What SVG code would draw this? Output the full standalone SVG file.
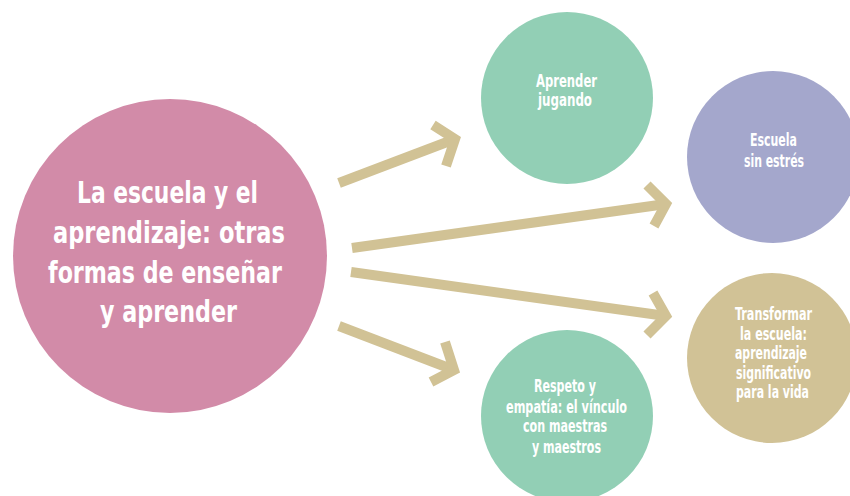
<svg xmlns="http://www.w3.org/2000/svg" width="850" height="496" viewBox="0 0 850 496">
<style>
.t{font-family:"Liberation Sans Narrow","DejaVu Sans Condensed","Roboto Condensed","Liberation Sans",sans-serif;font-stretch:condensed;font-weight:bold;fill:#ffffff;text-anchor:middle}
.big{font-size:29.5px}
.sm{font-size:17px}
.arr{fill:none;stroke:#d1c295;stroke-width:10;stroke-linejoin:miter;stroke-miterlimit:10;stroke-linecap:butt}
</style>
<rect width="850" height="496" fill="#ffffff"/>
<g id="connectors">
<g id="arrow1"><line class="arr" x1="339" y1="183" x2="455" y2="139"/><polyline class="arr" points="433,125 455,139 446,166"/></g>
<g id="arrow2"><line class="arr" x1="352" y1="248" x2="666" y2="204"/><polyline class="arr" points="647,185 666,204 654,226"/></g>
<g id="arrow3"><line class="arr" x1="351" y1="272" x2="666" y2="316"/><polyline class="arr" points="653,293 666,316 647,335"/></g>
<g id="arrow4"><line class="arr" x1="339" y1="326" x2="454" y2="370"/><polyline class="arr" points="445,342 454,370 431,382"/></g>
</g>
<g id="main">
<circle cx="170" cy="256" r="157" fill="#d28ba8"/>
<text class="t big" x="167.5" y="203" textLength="181" lengthAdjust="spacingAndGlyphs">La escuela y el</text>
<text class="t big" x="169" y="243" textLength="232" lengthAdjust="spacingAndGlyphs">aprendizaje: otras</text>
<text class="t big" x="165" y="283" textLength="234" lengthAdjust="spacingAndGlyphs">formas de enseñar</text>
<text class="t big" x="168.5" y="322" textLength="137" lengthAdjust="spacingAndGlyphs">y aprender</text>
</g>
<g id="aprender">
<circle cx="567" cy="98" r="86" fill="#92cfb5"/>
<text class="t sm" x="566.5" y="87" textLength="61" lengthAdjust="spacingAndGlyphs">Aprender</text>
<text class="t sm" x="565" y="106" textLength="54" lengthAdjust="spacingAndGlyphs">jugando</text>
</g>
<g id="escuela">
<circle cx="773" cy="157" r="86" fill="#a4a7cc"/>
<text class="t sm" x="773.5" y="146" textLength="47" lengthAdjust="spacingAndGlyphs">Escuela</text>
<text class="t sm" x="774" y="167" textLength="60" lengthAdjust="spacingAndGlyphs">sin estrés</text>
</g>
<g id="transformar">
<circle cx="772" cy="358" r="85" fill="#d1c296"/>
<text class="t sm" x="773.5" y="320" textLength="77" lengthAdjust="spacingAndGlyphs">Transformar</text>
<text class="t sm" x="773.5" y="339.5" textLength="67" lengthAdjust="spacingAndGlyphs">la escuela:</text>
<text class="t sm" x="771" y="359" textLength="72" lengthAdjust="spacingAndGlyphs">aprendizaje</text>
<text class="t sm" x="773.5" y="378.5" textLength="75" lengthAdjust="spacingAndGlyphs">significativo</text>
<text class="t sm" x="772.5" y="398" textLength="73" lengthAdjust="spacingAndGlyphs">para la vida</text>
</g>
<g id="respeto">
<circle cx="567" cy="416" r="86" fill="#92cfb5"/>
<text class="t sm" x="565" y="392" textLength="62" lengthAdjust="spacingAndGlyphs">Respeto y</text>
<text class="t sm" x="566.5" y="413" textLength="121" lengthAdjust="spacingAndGlyphs">empatía: el vínculo</text>
<text class="t sm" x="565" y="432" textLength="84" lengthAdjust="spacingAndGlyphs">con maestras</text>
<text class="t sm" x="566.5" y="453" textLength="69" lengthAdjust="spacingAndGlyphs">y maestros</text>
</g>
</svg>
